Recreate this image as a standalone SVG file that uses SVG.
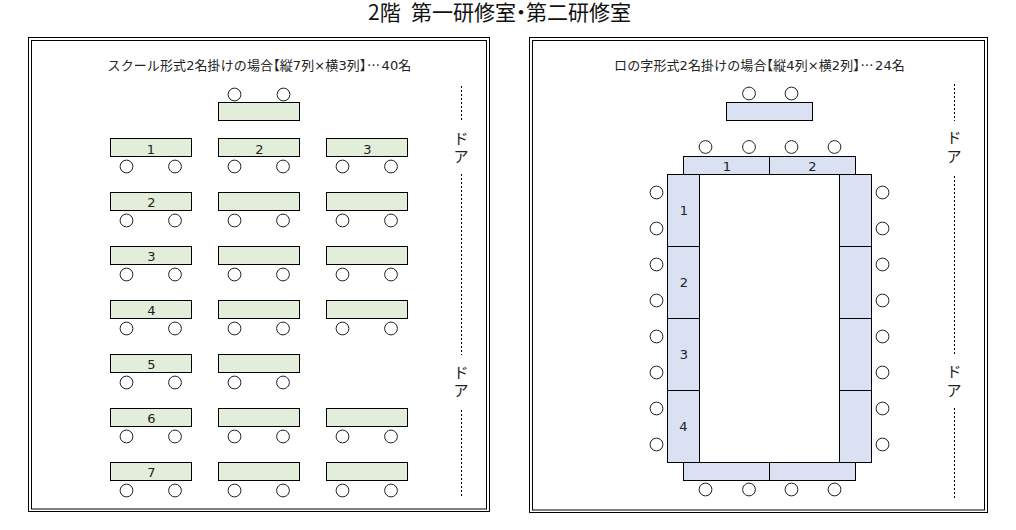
<svg xmlns="http://www.w3.org/2000/svg" width="1016" height="530" viewBox="0 0 1016 530">
<style>
text{font-family:"DejaVu Sans","Noto Sans CJK JP",sans-serif;fill:#222;text-anchor:middle}
.cap{font-size:13px;letter-spacing:.1px}
.n{font-size:13px}
.door{font-size:15px;font-family:"Noto Sans CJK JP",sans-serif}
.title{font-size:21px;font-family:"Noto Sans CJK JP",sans-serif;fill:#111;text-anchor:start}
.frame{fill:none;stroke:#000;stroke-width:1}
.g{fill:#e2eed9;stroke:#000;stroke-width:1}
.b{fill:#d9e1f2;stroke:#000;stroke-width:1}
.d{stroke:#000;stroke-width:1;stroke-dasharray:2 2;fill:none}
</style>
<defs>
<circle id="c" r="6.4" fill="#fff" stroke="#222" stroke-width="1"/>
<rect id="gt" width="81" height="18" class="g"/>
<g id="gs"><use href="#gt"/><use href="#c" x="16" y="28"/><use href="#c" x="64.5" y="28"/></g>
</defs>
<text id="title" class="title" y="20"><tspan x="368">2階</tspan><tspan x="411">第一研修室</tspan><tspan x="510.500">・</tspan><tspan x="526">第二研修室</tspan></text>
<g id="room-left">
<rect class="frame" x="28.500" y="37.500" width="461" height="474"/>
<rect class="frame" x="31.500" y="40.500" width="455" height="468.500"/>
<text class="cap" x="259.500" y="69.500">スクール形式2名掛けの場合<tspan dx="-6.500">【</tspan>縦7列×横3列】<tspan dx="-6" font-family="Noto Sans CJK JP">…</tspan><tspan dx="1.500">4</tspan>0名</text>
</g>
<g id="teacher-left"><rect class="g" x="218.500" y="102.500" width="81" height="18"/><use href="#c" x="234.500" y="94.500"/><use href="#c" x="283.500" y="94.500"/></g>
<g id="seats-left">
<use href="#gs" x="110.500" y="138.500"/><use href="#gs" x="218.500" y="138.500"/><use href="#gs" x="326.500" y="138.500"/>
<use href="#gs" x="110.500" y="192.500"/><use href="#gs" x="218.500" y="192.500"/><use href="#gs" x="326.500" y="192.500"/>
<use href="#gs" x="110.500" y="246.500"/><use href="#gs" x="218.500" y="246.500"/><use href="#gs" x="326.500" y="246.500"/>
<use href="#gs" x="110.500" y="300.500"/><use href="#gs" x="218.500" y="300.500"/><use href="#gs" x="326.500" y="300.500"/>
<use href="#gs" x="110.500" y="354.500"/><use href="#gs" x="218.500" y="354.500"/>
<use href="#gs" x="110.500" y="408.500"/><use href="#gs" x="218.500" y="408.500"/><use href="#gs" x="326.500" y="408.500"/>
<use href="#gs" x="110.500" y="462.500"/><use href="#gs" x="218.500" y="462.500"/><use href="#gs" x="326.500" y="462.500"/>
<text class="n" x="151" y="153.500">1</text><text class="n" x="259.500" y="153.500">2</text><text class="n" x="367.500" y="153.500">3</text>
<text class="n" x="151.500" y="207">2</text><text class="n" x="151.500" y="261">3</text><text class="n" x="151.500" y="315">4</text>
<text class="n" x="151.500" y="369">5</text><text class="n" x="151.500" y="423">6</text><text class="n" x="151.500" y="477">7</text>
</g>
<g id="door-left">
<path class="d" d="M461.500 86V120M461.500 174V355M461.500 410V498"/>
<text class="door" x="461" y="144">ド</text><text class="door" x="461" y="162">ア</text>
<text class="door" x="461" y="378">ド</text><text class="door" x="461" y="396">ア</text>
</g>
<g id="room-right">
<rect class="frame" x="529.500" y="37.500" width="458" height="475"/>
<rect class="frame" x="532.500" y="40.500" width="452" height="469.500"/>
<text class="cap" x="759.500" y="69.500">ロの字形式2名掛けの場合<tspan dx="-6.500">【</tspan>縦4列×横2列】<tspan dx="-6" font-family="Noto Sans CJK JP">…</tspan><tspan dx="1.500">2</tspan>4名</text>
</g>
<g id="teacher-right"><rect class="b" x="726.500" y="102.500" width="86" height="18"/><use href="#c" x="749" y="93.500"/><use href="#c" x="791.500" y="93.500"/></g>
<g id="seats-right">
<rect class="b" x="683.500" y="156.500" width="86" height="18"/><rect class="b" x="769.500" y="156.500" width="86" height="18"/>
<rect class="b" x="683.500" y="462.500" width="86" height="18"/><rect class="b" x="769.500" y="462.500" width="86" height="18"/>
<rect class="b" x="667.500" y="174.500" width="32" height="72"/><rect class="b" x="667.500" y="246.500" width="32" height="72"/><rect class="b" x="667.500" y="318.500" width="32" height="72"/><rect class="b" x="667.500" y="390.500" width="32" height="72"/>
<rect class="b" x="839.500" y="174.500" width="32" height="72"/><rect class="b" x="839.500" y="246.500" width="32" height="72"/><rect class="b" x="839.500" y="318.500" width="32" height="72"/><rect class="b" x="839.500" y="390.500" width="32" height="72"/>
<use href="#c" x="705.500" y="147"/><use href="#c" x="749" y="147"/><use href="#c" x="791.500" y="147"/><use href="#c" x="834.500" y="147"/>
<use href="#c" x="705.500" y="489.500"/><use href="#c" x="749" y="489.500"/><use href="#c" x="791.500" y="489.500"/><use href="#c" x="834.500" y="489.500"/>
<use href="#c" x="656.500" y="192.500"/><use href="#c" x="656.500" y="228.500"/><use href="#c" x="656.500" y="264.500"/><use href="#c" x="656.500" y="300.500"/><use href="#c" x="656.500" y="336.500"/><use href="#c" x="656.500" y="372.500"/><use href="#c" x="656.500" y="408.500"/><use href="#c" x="656.500" y="444.500"/>
<use href="#c" x="882.500" y="192.500"/><use href="#c" x="882.500" y="228.500"/><use href="#c" x="882.500" y="264.500"/><use href="#c" x="882.500" y="300.500"/><use href="#c" x="882.500" y="336.500"/><use href="#c" x="882.500" y="372.500"/><use href="#c" x="882.500" y="408.500"/><use href="#c" x="882.500" y="444.500"/>
<text class="n" x="727" y="170.500">1</text><text class="n" x="812.500" y="170.500">2</text>
<text class="n" x="684" y="215">1</text><text class="n" x="684" y="287">2</text><text class="n" x="684" y="359">3</text><text class="n" x="683.500" y="431">4</text>
</g>
<g id="door-right">
<path class="d" d="M954.500 84V121M954.500 176V355M954.500 408V498"/>
<text class="door" x="954" y="143">ド</text><text class="door" x="954" y="162">ア</text>
<text class="door" x="954" y="377">ド</text><text class="door" x="954" y="396">ア</text>
</g>
</svg>
